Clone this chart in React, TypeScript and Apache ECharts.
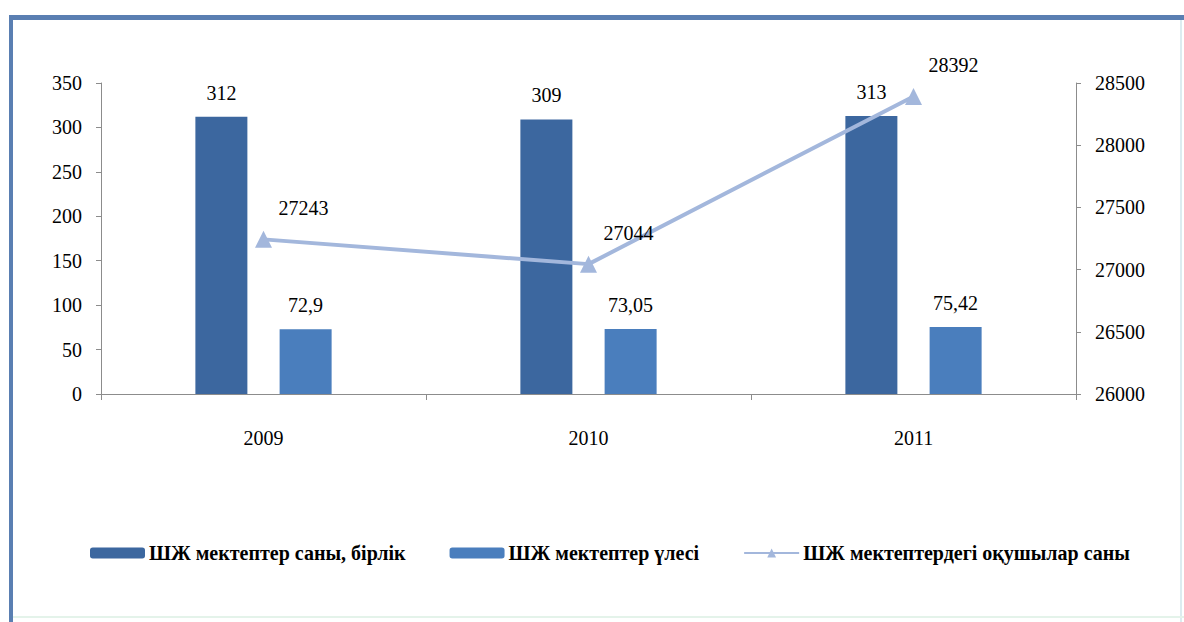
import React, { useEffect, useRef } from "react";
import * as echarts from "echarts";

const years = ["2009", "2010", "2011"];
const schoolCount = [312, 309, 313];
const schoolShare = [72.9, 73.05, 75.42];
const shareLabels = ["72,9", "73,05", "75,42"];
const students = [27243, 27044, 28392];
const seriesNames = [
  "ШЖ мектептер саны, бірлік",
  "ШЖ мектептер үлесі",
  "ШЖ мектептердегі оқушылар саны",
];

const FONT = "Times New Roman, Liberation Serif, serif";

export default function App() {
  const ref = useRef<HTMLDivElement>(null);
  useEffect(() => {
    if (!ref.current) return;
    const chart = echarts.init(ref.current, null, { renderer: "svg" });
    const axisLine = { show: true, lineStyle: { color: "#8c8c8c", width: 1 } };
    const axisLabel = { color: "#000", fontFamily: FONT, fontSize: 20, margin: 19 };
    const valueLabel = { show: true, color: "#000", fontFamily: FONT, fontSize: 20 };
    chart.setOption({
      animation: false,
      backgroundColor: "#fff",
      textStyle: { fontFamily: FONT },
      graphic: [
        { type: "line", shape: { x1: 1181, y1: 17, x2: 1181, y2: 622 }, style: { stroke: "#dcecf0", lineWidth: 2 } },
        { type: "line", shape: { x1: 11, y1: 617, x2: 1184, y2: 617 }, style: { stroke: "#e4f3ea", lineWidth: 2 } },
        { type: "line", shape: { x1: 11, y1: 15, x2: 11, y2: 622 }, style: { stroke: "#5a7fb2", lineWidth: 4 } },
        { type: "line", shape: { x1: 9, y1: 17.5, x2: 1184, y2: 17.5 }, style: { stroke: "#5a7fb2", lineWidth: 5 } },
      ],
      grid: { left: 101, right: 108, top: 83, bottom: 228 },
      legend: {
        left: 85,
        top: 538,
        itemWidth: 55,
        itemHeight: 11,
        itemGap: 44,
        textStyle: { color: "#000", fontFamily: FONT, fontSize: 20, fontWeight: "bold", padding: [0, 0, 0, -1] },
        data: seriesNames,
      },
      xAxis: {
        type: "category",
        data: years,
        axisLine,
        axisTick: { show: true, length: 6, lineStyle: { color: "#8c8c8c" } },
        axisLabel: { ...axisLabel, margin: 34 },
      },
      yAxis: [
        {
          type: "value",
          min: 0,
          max: 350,
          interval: 50,
          axisLine,
          axisTick: { show: true, length: 5, lineStyle: { color: "#8c8c8c" } },
          splitLine: { show: false },
          axisLabel,
        },
        {
          type: "value",
          min: 26000,
          max: 28500,
          interval: 500,
          position: "right",
          axisLine,
          axisTick: { show: true, length: 5, lineStyle: { color: "#8c8c8c" } },
          splitLine: { show: false },
          axisLabel: { ...axisLabel, formatter: (v: number) => String(v) },
        },
      ],
      series: [
        {
          name: seriesNames[0],
          type: "bar",
          data: schoolCount,
          barWidth: 52,
          barGap: "62%",
          itemStyle: { color: "#3c679f" },
          label: { ...valueLabel, position: "top", distance: 14 },
        },
        {
          name: seriesNames[1],
          type: "bar",
          data: schoolShare,
          barWidth: 52,
          itemStyle: { color: "#4a7ebd" },
          label: {
            ...valueLabel,
            position: "top",
            distance: 14,
            formatter: (p: any) => shareLabels[p.dataIndex],
          },
        },
        {
          name: seriesNames[2],
          type: "line",
          yAxisIndex: 1,
          data: students,
          symbol: "triangle",
          symbolSize: 17,
          lineStyle: { color: "#a3b7dc", width: 4 },
          itemStyle: { color: "#a3b7dc" },
          label: { ...valueLabel, position: "top", offset: [40, -8] },
        },
      ],
    });
    return () => chart.dispose();
  }, []);
  return (
    <div
      ref={ref}
      style={{ position: "fixed", left: 0, top: 0, width: 1184, height: 622, background: "#fff" }}
    />
  );
}
